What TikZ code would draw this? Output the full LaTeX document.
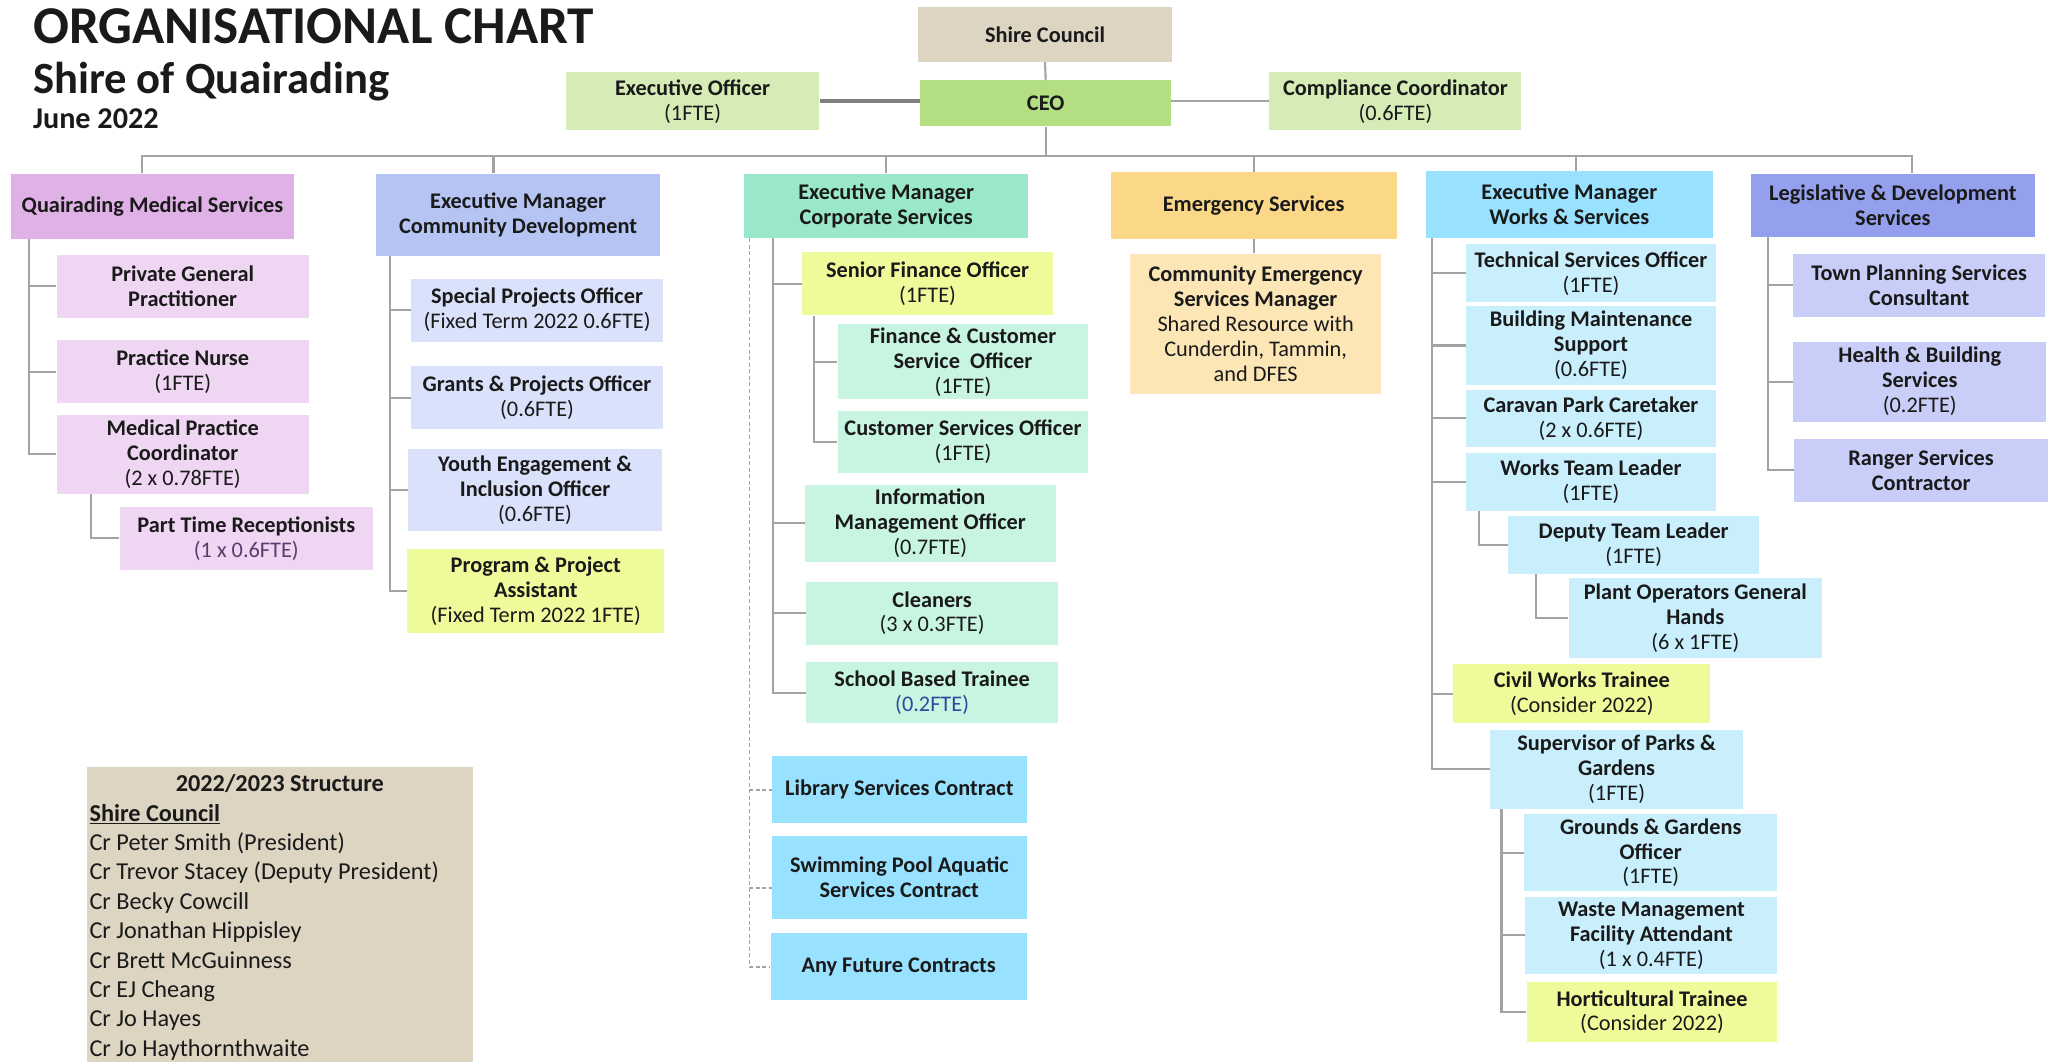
\documentclass[tikz,border=0pt]{standalone}
\usepackage{fontspec}
\setmainfont{Carlito}
\usetikzlibrary{calc}
\definecolor{cTan}{HTML}{DDD4C2}
\definecolor{cCeo}{HTML}{B3DE81}
\definecolor{cLg}{HTML}{D5ECB6}
\definecolor{cQ}{HTML}{E0B1E6}
\definecolor{cQl}{HTML}{EFD6F3}
\definecolor{cD}{HTML}{B5C4F3}
\definecolor{cDl}{HTML}{DAE1FA}
\definecolor{cY}{HTML}{EFFB9B}
\definecolor{cC}{HTML}{99E8C9}
\definecolor{cCl}{HTML}{C8F4E2}
\definecolor{cE}{HTML}{FAD887}
\definecolor{cEl}{HTML}{FCE6B6}
\definecolor{cW}{HTML}{99E2FF}
\definecolor{cWl}{HTML}{C9EFFD}
\definecolor{cL}{HTML}{949FEE}
\definecolor{cLl}{HTML}{C8CEF7}
\definecolor{lng}{HTML}{A3A3A3}
\definecolor{eoc}{HTML}{7F7F7F}
\definecolor{txt}{HTML}{1A1A1A}
\definecolor{cPur}{HTML}{5E3A6E}
\definecolor{cBlu}{HTML}{2E4A9E}
\newcommand\lite[1]{{\mdseries #1}}
\tikzset{
  box/.style={inner sep=1pt, align=center, anchor=north west, text=txt,
    font=\fontsize{17}{19}\selectfont\bfseries},
  ln/.style={draw=lng, line width=1.6pt},
  dl/.style={draw=lng, line width=1.3pt, dash pattern=on 3pt off 2pt},
  ttl/.style={anchor=base west, inner sep=0pt, text=txt},
}
\newcommand\bx[7]{\node[box,fill=#6,minimum width={#4-#2},minimum height={#5-#3}] (#1) at (#2,#3) {#7};}
\begin{document}
\begin{tikzpicture}[x=1pt,y=-1pt]
\path[use as bounding box] (0,0) rectangle (1568,809);
% titles
\node[ttl, font=\fontsize{40.5}{44}\selectfont\bfseries] (t1) at (25,33) {ORGANISATIONAL CHART};
\node[ttl, font=\fontsize{34}{36}\selectfont\bfseries] (t2) at (25,71) {Shire of Quairading};
\node[ttl, font=\fontsize{23}{26}\selectfont\bfseries] (t3) at (25,98) {June 2022};
% top
\bx{sc}{699}{5}{893}{47}{cTan}{Shire Council}
\bx{ceo}{701}{61}{892}{96}{cCeo}{CEO}
\bx{eo}{431}{55}{624}{99}{cLg}{Executive Officer\\\lite{(1FTE)}}
\bx{cc}{967}{55}{1159}{99}{cLg}{Compliance Coordinator\\\lite{(0.6FTE)}}
% level 2
\bx{qms}{8}{132}{224}{182}{cQ}{Quairading Medical Services}
\bx{ecd}{286}{132}{503}{195}{cD}{Executive Manager\\Community Development}
\bx{ecs}{567}{132}{783}{181}{cC}{Executive Manager\\Corporate Services}
\bx{es}{846}{131}{1064}{182}{cE}{Emergency Services}
\bx{ew}{1086}{130}{1305}{181}{cW}{Executive Manager\\Works \& Services}
\bx{lds}{1334}{132}{1550}{180}{cL}{Legislative \& Development\\Services}
% medical
\bx{pgp}{43}{194}{235}{242}{cQl}{Private General\\Practitioner}
\bx{pn}{43}{259}{235}{307}{cQl}{Practice Nurse\\\lite{(1FTE)}}
\bx{mpc}{43}{316}{235}{376}{cQl}{Medical Practice\\Coordinator\\\lite{(2 x 0.78FTE)}}
\bx{ptr}{91}{386}{284}{434}{cQl}{Part Time Receptionists\\\lite{\color{cPur}(1 x 0.6FTE)}}
% community
\bx{spo}{313}{212}{505}{260}{cDl}{Special Projects Officer\\\lite{(Fixed Term 2022 0.6FTE)}}
\bx{gpo}{313}{279}{505}{327}{cDl}{Grants \& Projects Officer\\\lite{(0.6FTE)}}
\bx{yeo}{311}{342}{504}{404}{cDl}{Youth Engagement \&\\Inclusion Officer\\\lite{(0.6FTE)}}
\bx{ppa}{310}{418}{506}{482}{cY}{Program \& Project\\Assistant\\\lite{(Fixed Term 2022 1FTE)}}
% corporate
\bx{sfo}{611}{192}{802}{240}{cY}{Senior Finance Officer\\\lite{(1FTE)}}
\bx{fcs}{638}{247}{829}{304}{cCl}{Finance \& Customer\\Service\ \ Officer\\\lite{(1FTE)}}
\bx{cso}{638}{313}{829}{360}{cCl}{Customer Services Officer\\\lite{(1FTE)}}
\bx{imo}{613}{369}{804}{428}{cCl}{Information\\Management Officer\\\lite{(0.7FTE)}}
\bx{cln}{614}{443}{806}{491}{cCl}{Cleaners\\\lite{(3 x 0.3FTE)}}
\bx{sbt}{614}{504}{806}{551}{cCl}{School Based Trainee\\\lite{\color{cBlu}(0.2FTE)}}
\bx{lib}{588}{576}{782}{627}{cW}{Library Services Contract}
\bx{swp}{588}{637}{782}{700}{cW}{Swimming Pool Aquatic\\Services Contract}
\bx{afc}{587}{711}{782}{762}{cW}{Any Future Contracts}
% emergency
\bx{cesm}{861}{193}{1052}{300}{cEl}{Community Emergency\\Services Manager\\\lite{Shared Resource with}\\\lite{Cunderdin, Tammin,}\\\lite{and DFES}}
% works
\bx{tso}{1117}{186}{1307}{230}{cWl}{Technical Services Officer\\\lite{(1FTE)}}
\bx{bms}{1117}{233}{1307}{293}{cWl}{Building Maintenance\\Support\\\lite{(0.6FTE)}}
\bx{cpc}{1117}{297}{1307}{340}{cWl}{Caravan Park Caretaker\\\lite{(2 x 0.6FTE)}}
\bx{wtl}{1117}{345}{1307}{389}{cWl}{Works Team Leader\\\lite{(1FTE)}}
\bx{dtl}{1149}{393}{1340}{437}{cWl}{Deputy Team Leader\\\lite{(1FTE)}}
\bx{pog}{1195}{440}{1388}{501}{cWl}{Plant Operators General\\Hands\\\lite{(6 x 1FTE)}}
\bx{cwt}{1107}{506}{1303}{551}{cY}{Civil Works Trainee\\\lite{(Consider 2022)}}
\bx{spg}{1135}{556}{1328}{616}{cWl}{Supervisor of Parks \&\\Gardens\\\lite{(1FTE)}}
\bx{ggo}{1161}{620}{1354}{679}{cWl}{Grounds \& Gardens\\Officer\\\lite{(1FTE)}}
\bx{wmf}{1162}{683}{1354}{742}{cWl}{Waste Management\\Facility Attendant\\\lite{(1 x 0.4FTE)}}
\bx{hort}{1163}{748}{1354}{794}{cY}{Horticultural Trainee\\\lite{(Consider 2022)}}
% legislative
\bx{tps}{1366}{193}{1558}{241}{cLl}{Town Planning Services\\Consultant}
\bx{hbs}{1366}{260}{1559}{321}{cLl}{Health \& Building\\Services\\\lite{(0.2FTE)}}
\bx{rsc}{1367}{334}{1560}{382}{cLl}{Ranger Services\\Contractor}
% structure
\node[fill=cTan, inner sep=0pt, anchor=north west, text=txt,
  font=\fontsize{18.5}{22.4}\selectfont] (struct) at (66,584)
  {\parbox[t][225pt][t]{294pt}{\centering\rule{0pt}{19pt}\textbf{2022/2023 Structure}\par
   \raggedright\leftskip=2pt\parindent=0pt
   \underline{\textbf{Shire Council}}\\
   Cr Peter Smith (President)\\
   Cr Trevor Stacey (Deputy President)\\
   Cr Becky Cowcill\\
   Cr Jonathan Hippisley\\
   Cr Brett McGuinness\\
   Cr EJ Cheang\\
   Cr Jo Hayes\\
   Cr Jo Haythornthwaite\par}};
% ---- connectors ----
\draw[ln] (sc.south) -- (ceo.north);
\draw[draw=eoc, line width=3pt] (eo.east) -- (eo.east -| ceo.west);
\draw[ln] (cc.west -| ceo.east) -- (cc.west);
\coordinate (bus) at (796.5,119);
\draw[ln] (ceo.south) -- (ceo.south |- bus);
\coordinate (d1) at ([xshift=100pt]qms.north west);
\coordinate (d2) at ([xshift=90pt]ecd.north west);
\coordinate (d5) at ([xshift=5pt]ew.north);
\coordinate (d6) at ([xshift=123pt]lds.north west);
\draw[ln] (d1) |- (bus) -| (d6);
\draw[ln] (d2) -- (d2 |- bus);
\draw[ln] (ecs.north) -- (ecs.north |- bus);
\draw[ln] (es.north) -- (es.north |- bus);
\draw[ln] (d5) -- (d5 |- bus);
% medical
\foreach \c in {pgp,pn,mpc} \draw[ln] ([xshift=14pt]qms.south west) |- (\c.west);
\draw[ln] ([xshift=26pt]mpc.south west) |- (ptr.west);
% community
\foreach \c in {spo,gpo,yeo,ppa} \draw[ln] ([xshift=11pt]ecd.south west) |- (\c.west);
% corporate
\foreach \c in {sfo,imo,cln,sbt} \draw[ln] ([xshift=22pt]ecs.south west) |- (\c.west);
\foreach \c in {fcs,cso} \draw[ln] ([xshift=9pt]sfo.south west) |- (\c.west);
\coordinate (swpc) at ([yshift=-8pt]swp.west);
\draw[dl] ([xshift=4pt]ecs.south west) |- (lib.west);
\draw[dl] ([xshift=4pt]ecs.south west) |- (swpc);
\draw[dl] ([xshift=4pt]ecs.south west) |- (afc.west);
% emergency
\draw[ln] (es.south) -- (es.south |- cesm.north);
% works
\foreach \c in {tso,bms,cpc,wtl,cwt,spg} \draw[ln] ([xshift=5pt]ew.south west) |- (\c.west);
\draw[ln] ([xshift=10pt]wtl.south west) |- (dtl.west);
\draw[ln] ([xshift=21pt]dtl.south west) |- (pog.west);
\foreach \c in {ggo,wmf,hort} \draw[ln] ([xshift=9pt]spg.south west) |- (\c.west);
% legislative
\foreach \c in {tps,hbs,rsc} \draw[ln] ([xshift=13pt]lds.south west) |- (\c.west);
\end{tikzpicture}
\end{document}
